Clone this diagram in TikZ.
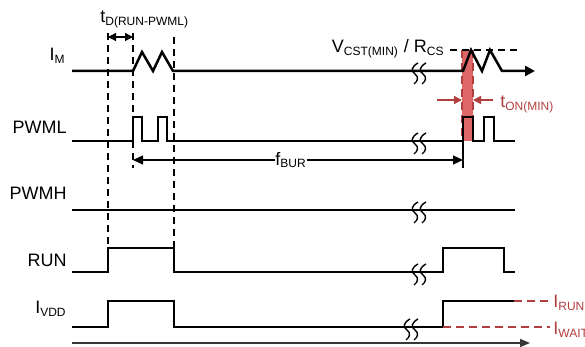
\documentclass[tikz,border=0pt]{standalone}
\usepackage{fontspec}
\setmainfont{Liberation Sans}
\usetikzlibrary{arrows.meta, positioning, calc}
\definecolor{limitred}{RGB}{176, 62, 62}
\definecolor{barred}{RGB}{222, 104, 104}
\definecolor{axisgray}{RGB}{55, 55, 55}

\begin{document}
\begin{tikzpicture}[
    x=0.5pt, y=-0.5pt,
    wave/.style={line width=1.25pt, line join=miter},
    guide/.style={line width=0.65pt,
                  dash pattern=on 3.5pt off 2.5pt},
    sig/.style={font=\fontsize{9}{10}\selectfont,
                inner sep=0pt, anchor=base east},
    lbl/.style={font=\fontsize{9}{10}\selectfont,
                inner sep=0pt},
    dimarr/.style={line width=0.6pt,
                   {Triangle[length=4pt,width=4pt]}-{Triangle[length=4pt,width=4pt]}},
    oneway/.style={line width=0.6pt,
                   -{Triangle[length=5pt,width=4.5pt]}},
    redarr/.style={line width=0.7pt, color=limitred,
                   -{Triangle[length=4pt,width=4pt]}},
    reddash/.style={line width=0.7pt, color=limitred,
                    dash pattern=on 4pt off 2.5pt},
    pics/brk/.style={code={
        \draw[line width=0.7pt]
            (4,-8) .. controls (-3,-4) and (-3,0) .. (1,3)
                   .. controls (5,6) and (4,10) .. (0,13);
        \draw[line width=0.7pt]
            (12,-8) .. controls (5,-4) and (5,0) .. (9,3)
                    .. controls (13,6) and (12,10) .. (8,13);
    }},
]
\useasboundingbox (0,0) rectangle (585,347);

% -- Time marks -----------------------------
\coordinate (tRun)  at (108,0);
\coordinate (tPwm)  at (133,0);
\coordinate (tEnd)  at (174,0);
\coordinate (tOn)   at (462,0);
\coordinate (tOff)  at (473,0);

% -- Minimum on-time band -------------------
\fill[barred] (462,50) rectangle (473,141);
\draw[reddash] (462,50) -- (462,141);
\draw[reddash] (473,50) -- (473,141);

% -- Signal names ---------------------------
\node[sig] (nIM)   at (66,61)  {I\textsubscript{M}};
\node[sig] (nPWML) at (67,134) {PWML};
\node[sig] (nPWMH) at (67,200) {PWMH};
\node[sig] (nRUN)  at (67,267) {RUN};
\node[sig] (nIVDD) at (67,314) {I\textsubscript{VDD}};

% -- Waveforms ------------------------------
\draw[wave, -{Triangle[length=5pt,width=5pt]}]
    (72,71) -- (133,71) -- (142,52) -- (153,71) -- (162,52)
    -- (173,71) -- (463,71) -- (471,50) -- (482,71) -- (490,50)
    -- (502,71) -- (535,71);
\draw[wave]
    (72,141) -- (133,141) -- (133,117) -- (142,117) -- (142,141)
    -- (158,141) -- (158,117) -- (167,117) -- (167,141)
    -- (463,141) -- (463,117) -- (473,117) -- (473,141)
    -- (484,141) -- (484,117) -- (494,117) -- (494,141)
    -- (515,141);
\draw[wave] (72,210) -- (515,210);
\draw[wave]
    (72,272) -- (108,272) -- (108,248) -- (174,248) -- (174,272)
    -- (443,272) -- (443,248) -- (504,248) -- (504,272)
    -- (515,272);
\draw[wave]
    (72,327) -- (108,327) -- (108,301) -- (174,301) -- (174,327)
    -- (443,327) -- (443,301) -- (514,301);

% -- Time axis ------------------------------
\draw[line width=0.7pt, axisgray,
      -{Triangle[length=5pt,width=4pt]}] (72,343) -- (530,343);

% -- Axis breaks ----------------------------
\pic at (414,71)  {brk};
\pic at (414,141) {brk};
\pic at (414,210) {brk};
\pic at (414,272) {brk};
\pic at (406,327) {brk};

% -- Guide lines ----------------------------
\draw[guide] (108,33) -- (108,248);
\draw[guide] (133,33) -- (133,168);
\draw[guide] (174,37) -- (174,248);
\draw[guide] (450,50) -- (522,50);

% -- t_D(RUN-PWML) --------------------------
\coordinate (dL) at (108,37);
\coordinate (dR) at (133,37);
\draw[dimarr] (dL) -- (dR);
\node[lbl, anchor=base west] (nTD) at (100,23)
    {t\textsubscript{D(RUN-PWML)}};

% -- Current threshold ----------------------
\node[lbl, anchor=base east] (nVCS) at (445,53)
    {V\textsubscript{CST(MIN)} / R\textsubscript{CS}};

% -- t_ON(MIN) ------------------------------
\coordinate (onL) at (437,100);
\coordinate (onR) at (493,100);
\draw[redarr] (onL) -- (tOn |- onL);
\draw[redarr] (onR) -- (tOff |- onR);
\node[lbl, anchor=base west, color=limitred] (nTON) at (500,108)
    {t\textsubscript{ON(MIN)}};

% -- f_BUR ----------------------------------
\coordinate (burL) at (133,160);
\coordinate (burR) at (463,160);
\node[lbl] (nFBUR) at (291,160) {f\textsubscript{BUR}};
\draw[oneway] (nFBUR.west) -- (burL);
\draw[oneway] (nFBUR.east) -- (burR);
\draw[line width=0.6pt] (463,141) -- (463,168);

% -- Supply current levels ------------------
\draw[reddash] (514,301) -- (550,301);
\draw[reddash] (443,327) -- (550,327);
\node[lbl, anchor=base west, color=limitred] (nIRUN) at (553,308)
    {I\textsubscript{RUN}};
\node[lbl, anchor=base west, color=limitred] (nIWAIT) at (553,335)
    {I\textsubscript{WAIT}};

\end{tikzpicture}
\end{document}
